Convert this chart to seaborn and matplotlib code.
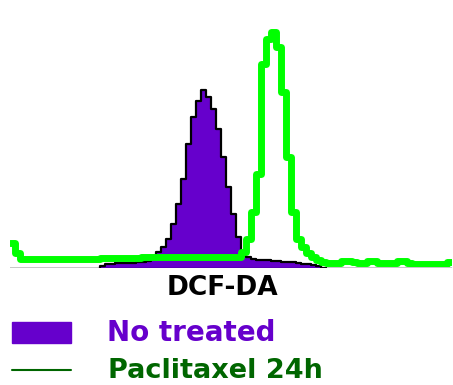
import numpy as np
import matplotlib
matplotlib.use("Agg")
import matplotlib.pyplot as plt
from matplotlib.patches import Rectangle
from matplotlib.lines import Line2D
import pandas as pd
import seaborn as sns

# channel bins (5 units each)
bin_centers = np.arange(2.5, 440, 5)

no_treated = [0] * 18 + [3, 5, 5, 6, 6, 6, 6, 7, 7, 8, 10] + \
    [17, 22, 30, 45, 65, 90, 125, 152, 168, 179, 172, 160, 140, 112, 82, 55, 32, 18, 12] + \
    [10, 9, 9, 9, 8, 8, 7, 7, 7, 6, 5, 5, 4, 3, 1] + [0] * 25

paclitaxel_24h = [26, 16] + [10] * 12 + \
    [10, 10, 10, 10, 11, 11, 11, 11, 11, 11, 11, 11, 12, 12] + [12] * 18 + \
    [17, 30, 57, 95, 205, 230, 237, 222, 177, 112, 57, 30, 22, 16, 12, 9, 7] + \
    [6, 6, 6, 8, 8, 7, 6, 6, 8, 8, 6, 6, 6, 6, 8, 8, 6, 5, 5, 5, 5, 5, 5, 5, 7]

legend_labels = ["No treated", "Paclitaxel 24h"]
x_label = "DCF-DA"

purple = "#6600cc"
bright_green = "#00ff00"
dark_green = "#006600"

df = pd.DataFrame({"channel": bin_centers, "no_treated": no_treated,
                   "paclitaxel": paclitaxel_24h})

sns.set_style("white")
plt.rcParams["font.family"] = ["DejaVu Sans"]

W, H = 453, 385
fig = plt.figure(figsize=(W / 100, H / 100), dpi=100)
ax = fig.add_axes([10 / W, (H - 267) / H, 442 / W, 257 / H])

sns.histplot(data=df, x="channel", weights="no_treated", binwidth=5, binrange=(0, 440),
             element="step", fill=True, color=purple, alpha=1, edgecolor="black",
             linewidth=1.6, ax=ax)
sns.histplot(data=df, x="channel", weights="paclitaxel", binwidth=5, binrange=(0, 440),
             element="step", fill=False, color=bright_green, linewidth=5, ax=ax)

ax.set_xlim(0, 440)
ax.set_ylim(2, 259)  # hide the black edge along zero
ax.set_axis_off()

# x label
fig.text(222 / W, 1 - 295 / H, x_label, ha="center", va="baseline",
         fontsize=19, fontweight="bold", color="black")

# legend drawn by hand
fig.add_artist(Rectangle((12 / W, 1 - 343 / H), 59 / W, 21 / H,
                         transform=fig.transFigure, color=purple))
fig.add_artist(Line2D([12 / W, 71 / W], [1 - 370 / H] * 2,
                      transform=fig.transFigure, color=dark_green, lw=1.5))
fig.text(107 / W, 1 - 341 / H, legend_labels[0], ha="left", va="baseline",
         fontsize=20, fontweight="bold", color=purple)
fig.text(108 / W, 1 - 378 / H, legend_labels[1], ha="left", va="baseline",
         fontsize=19.5, fontweight="bold", color=dark_green)

plt.savefig("out.png", dpi=100)
